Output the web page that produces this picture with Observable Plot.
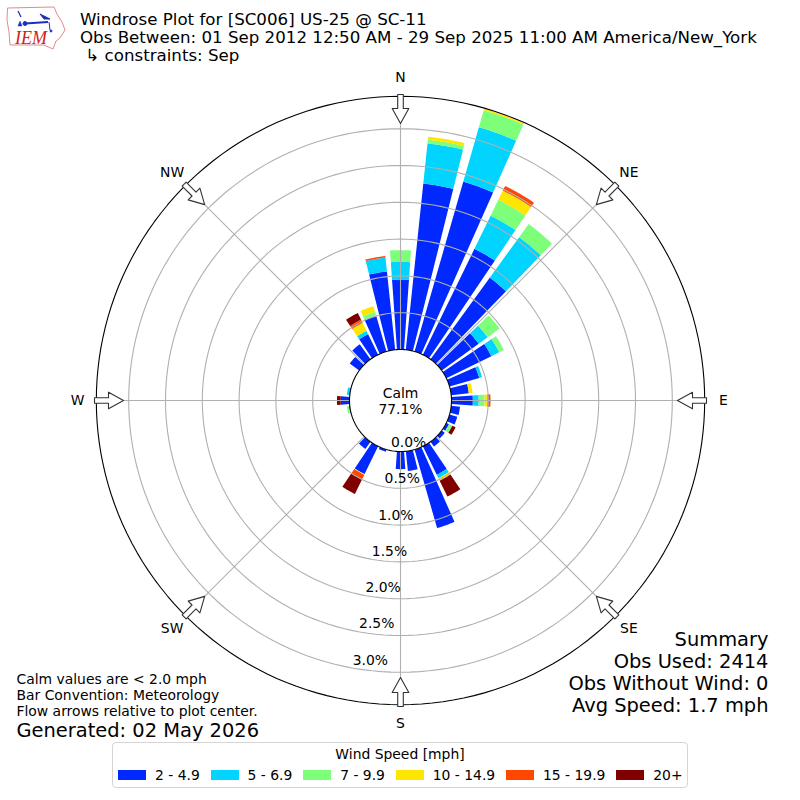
<!DOCTYPE html>
<html>
<head>
<meta charset="utf-8">
<script src="https://cdn.jsdelivr.net/npm/d3@7"></script>
<script src="https://cdn.jsdelivr.net/npm/@observablehq/plot@0.6"></script>
<style>
html,body{margin:0;padding:0;background:#fff;font-family:"DejaVu Sans",sans-serif;color:#000}
#page{position:relative;width:800px;height:800px;overflow:hidden}
#head{position:relative;height:60px}
#logo{position:absolute;left:0;top:0}
#title{position:absolute;left:80px;top:11px;font-size:16.67px;line-height:18px;white-space:pre}
#legend{position:absolute;left:112px;top:742px;width:576px;height:46px;box-sizing:border-box;border:1px solid #d5d5d5;border-radius:4px;font-size:13.9px;background:#fff}
#legend .t{position:absolute;left:0;right:0;top:3px;text-align:center}
#legend .row{position:absolute;left:5px;top:24px;display:flex;align-items:center;white-space:nowrap}
#legend .sw{display:inline-block;width:28px;height:10px;margin-right:9px}
#legend .lb{margin-right:10.8px}
svg{display:block}
</style>
</head>
<body>
<div id="page">
  <div id="head">
    <svg id="logo" width="70" height="55" viewBox="0 0 70 55">
      <path d="M7.500 8 L54 7 L57 14 L62 22 L65 30 L60 38 L56 41 L53 49 L44 45 L10 45 L9 32 L7 20 Z" fill="#fff" stroke="#e58a8a" stroke-width="1"/>
      <g stroke="#1a2fc4" fill="#1a2fc4">
        <path d="M25 23.500 L48 22" stroke-width="2"/>
        <path d="M18 11 L21 17" stroke-width="1.200"/>
        <path d="M40 14 L50 19 L44 19 Z" stroke-width="1"/>
        <path d="M49 22 L50 30" stroke-width="1"/>
        <circle cx="25" cy="23.500" r="2"/>
        <path d="M18 26 L20 21 L22 26 Z" stroke-width="0.500"/>
        <circle cx="51" cy="31" r="1"/>
      </g>
      <text x="15" y="44" font-family="Liberation Serif" font-style="italic" font-size="18" fill="#d42020">IEM</text>
    </svg>
    <div id="title"></div>
  </div>
  <div id="chart"></div>
  <div id="legend"><div class="t"></div><div class="row"></div></div>
</div>
<script>
// ---- chart values (percent of observations) ----
const directions = d3.range(0, 360, 10);
const speedBins = ["2 - 4.9", "5 - 6.9", "7 - 9.9", "10 - 14.9", "15 - 19.9", "20+"];
const speedColors = ["#0028ff", "#00d4ff", "#7dff7a", "#ffe600", "#ff4700", "#800000"];
//                 0    10    20    30    40    50    60    70    80    90   100  110  120  130  140  150  160  170  180 190 200  210  220 230 240 250  260  270  280 290 300  310  320  330  340  350
const bin2to5  = [0.95,2.27,2.40,1.60,1.37,0.62,0.68,0.42,0.24,0.29,0.12,0.11,0.04,0.05,0.08,0.43,1.11,0.27,0.24,0,0.03,0.42,0.12,0,0,0,0.01,0.12,0.01,0,0,0.16,0.25,0.31,0.50,1.07];
const bin5to7  = [0.24,0.55,0.77,0.50,0.68,0.15,0.12,0.04,0,0.08,0,0,0,0,0,0.05,0,0,0,0,0,0,0,0,0,0,0,0,0.03,0,0,0,0,0.05,0.01,0.19];
const bin7to10 = [0.16,0.05,0.24,0.24,0.22,0.20,0.07,0,0,0.08,0,0,0.05,0,0,0,0,0,0,0,0,0,0,0,0,0,0.03,0,0,0,0,0,0,0,0.05,0];
const bin10to15= [0,0.04,0.02,0.14,0,0,0,0,0.05,0.04,0,0,0,0,0,0.04,0,0,0,0,0,0.01,0,0,0,0,0,0,0,0,0,0,0,0.12,0.08,0];
const bin15to20= [0,0,0,0.07,0,0,0,0,0,0.04,0,0,0,0,0,0,0,0,0,0,0,0.07,0,0,0,0,0,0,0,0,0,0,0,0.05,0,0.02];
const bin20up  = [0,0,0,0,0,0,0,0,0,0,0,0,0.05,0,0,0.24,0,0,0,0,0,0.22,0,0,0,0,0,0.05,0,0,0,0,0,0.10,0,0];
const binValues = [bin2to5, bin5to7, bin7to10, bin10to15, bin15to20, bin20up];

const ringValues = [0.5, 1, 1.5, 2, 2.5, 3];
const ringTicks = [0, 0.5, 1, 1.5, 2, 2.5, 3];
const ringMax = 3.44;
const compass = [["N",0],["NE",45],["E",90],["SE",135],["S",180],["SW",225],["W",270],["NW",315]];
const calmLabel = "Calm\n77.1%";
const titleLines = [
  "Windrose Plot for [SC006] US-25 @ SC-11",
  "Obs Between: 01 Sep 2012 12:50 AM - 29 Sep 2025 11:00 AM America/New_York",
  " \u21B3 constraints: Sep"
];
const notes = "Calm values are < 2.0 mph\nBar Convention: Meteorology\nFlow arrows relative to plot center.";
const generated = "Generated: 02 May 2026";
const summary = "Summary\nObs Used: 2414\nObs Without Wind: 0\nAvg Speed: 1.7 mph";
const legendTitle = "Wind Speed [mph]";

// ---- geometry ----
const pxPerPct = 73.6, holePx = 51, hole = holePx / pxPerPct;
const W = 800, H = 690, cx = 400, cy = 340;
const rad = d => (d * Math.PI) / 180;
const polar = (deg, pct) => ({x: (pct + hole) * Math.sin(rad(deg)), y: (pct + hole) * Math.cos(rad(deg))});

// bars: stacked wedges, each drawn as a closed outline
const wedges = [];
directions.forEach((dir, i) => {
  let base = 0;
  binValues.forEach((vals, b) => {
    const v = vals[i];
    if (!v) return;
    const top = Math.min(base + v, ringMax), id = dir + "-" + b, a0 = dir - 4;
    for (let s = 0; s <= 8; s++) wedges.push({id, bin: speedBins[b], ...polar(a0 + s, base)});
    for (let s = 8; s >= 0; s--) wedges.push({id, bin: speedBins[b], ...polar(a0 + s, top)});
    base = top;
  });
});

const circlePts = (pct) => d3.range(0, 360, 2).map(a => ({ring: pct, ...polar(a, pct)}));
const ringPts = ringValues.flatMap(circlePts);
const outerPts = circlePts(ringMax);
const holePts = circlePts(0);
const spokes = compass.map(([n, a]) => ({n, x1: polar(a, -hole).x, y1: polar(a, -hole).y, x2: polar(a, ringMax).x, y2: polar(a, ringMax).y}));

// compass arrows (outline in px along/across the spoke)
const arrowShape = [[277,0],[292,8.3],[292,2.8],[306,2.8],[306,-2.8],[292,-2.8],[292,-8.3]];
const arrows = compass.flatMap(([n, a]) => arrowShape.map(([al, ac]) => ({
  n,
  x: (al * Math.sin(rad(a)) + ac * Math.cos(rad(a))) / pxPerPct,
  y: (al * Math.cos(rad(a)) - ac * Math.sin(rad(a))) / pxPerPct
})));
const compassLabels = compass.map(([n, a]) => ({n, x: 323 * Math.sin(rad(a)) / pxPerPct, y: 323 * Math.cos(rad(a)) / pxPerPct}));
const tickLabels = ringTicks.map(p => ({t: p.toFixed(1) + "%", ...polar(190, p)}));

const plot = Plot.plot({
  width: W, height: H, margin: 0,
  style: {fontFamily: "DejaVu Sans", background: "transparent", color: "#000"},
  x: {axis: null, domain: [-cx / pxPerPct, (W - cx) / pxPerPct], range: [0, W]},
  y: {axis: null, domain: [cy / pxPerPct, -(H - cy) / pxPerPct], range: [0, H]},
  color: {domain: speedBins, range: speedColors},
  marks: [
    Plot.line(wedges, {x: "x", y: "y", z: "id", fill: "bin", stroke: "none", curve: "linear-closed"}),
    Plot.line(ringPts, {x: "x", y: "y", z: "ring", stroke: "#b0b0b0", strokeWidth: 1.1, curve: "linear-closed"}),
    Plot.link(spokes, {x1: "x1", y1: "y1", x2: "x2", y2: "y2", stroke: "#b0b0b0", strokeWidth: 1.1}),
    Plot.line(holePts, {x: "x", y: "y", fill: "#fff", stroke: "#000", strokeWidth: 1.1, curve: "linear-closed"}),
    Plot.line(outerPts, {x: "x", y: "y", stroke: "#000", strokeWidth: 1.1, curve: "linear-closed"}),
    Plot.line(arrows, {x: "x", y: "y", z: "n", fill: "#fff", stroke: "#333", strokeWidth: 1.1, curve: "linear-closed"}),
    Plot.text(compassLabels, {x: "x", y: "y", text: "n", fontSize: 13.9, fill: "#000"}),
    Plot.text(tickLabels, {x: "x", y: "y", text: "t", dx: 17, dy: -8, fontSize: 13.9, fill: "#000"}),
    Plot.text([calmLabel], {x: () => 0, y: () => 0, text: d => d, fontSize: 13.9, lineHeight: 1.15, fill: "#000"}),
    Plot.text([notes], {frameAnchor: "bottom-left", text: d => d, dx: 16, dy: -35, fontSize: 13.9, lineHeight: 1.15, fill: "#000"}),
    Plot.text([generated], {frameAnchor: "bottom-left", text: d => d, dx: 16, dy: -14, fontSize: 19.44, fill: "#000"}),
    Plot.text([summary], {frameAnchor: "bottom-right", text: d => d, dx: -32, dy: -39, fontSize: 19.44, lineHeight: 1.12, fill: "#000"})
  ]
});
document.getElementById("chart").append(plot);

// ---- header and legend ----
document.getElementById("title").textContent = titleLines.join("\n");
const legend = document.getElementById("legend");
legend.querySelector(".t").textContent = legendTitle;
const row = legend.querySelector(".row");
speedBins.forEach((b, i) => {
  const s = document.createElement("span"); s.className = "sw"; s.style.background = speedColors[i];
  const l = document.createElement("span"); l.className = "lb"; l.textContent = b;
  row.append(s, l);
});
</script>
</body>
</html>
